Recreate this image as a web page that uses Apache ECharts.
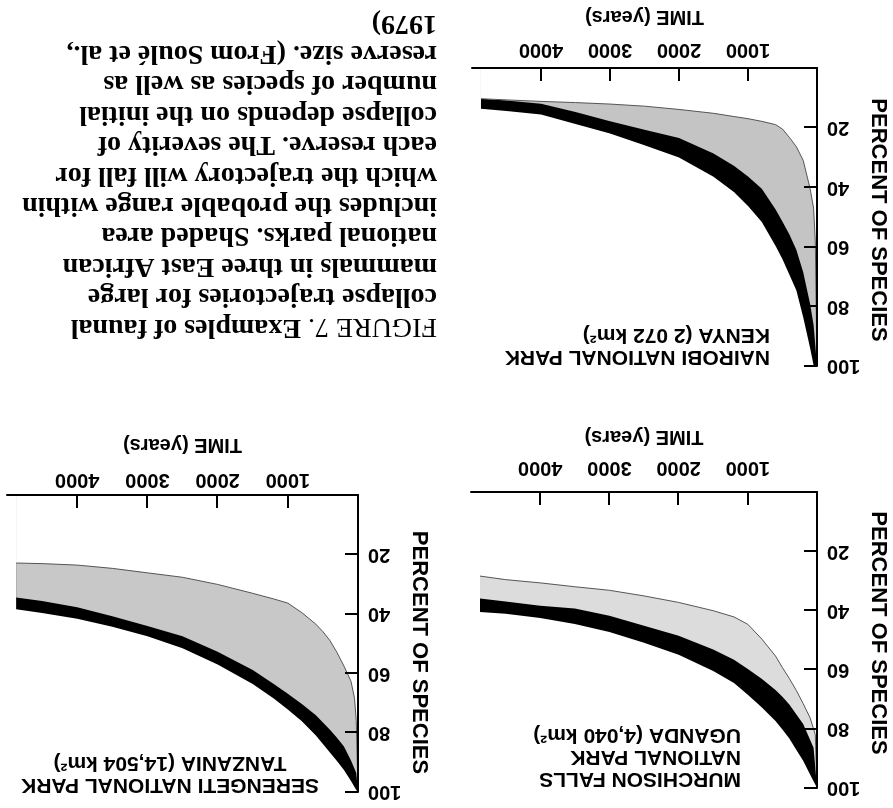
<!DOCTYPE html>
<html>
<head>
<meta charset="utf-8">
<title>Faunal collapse trajectories</title>
<script src="https://cdn.jsdelivr.net/npm/echarts@6/dist/echarts.min.js"></script>
<style>
  html, body { margin: 0; padding: 0; background: #fff; overflow: hidden; }
  /* the scanned page is upside down, so the whole chart is turned round */
  #chart { width: 893px; height: 808px; transform: rotate(180deg); }
</style>
</head>
<body>
<div id="chart"></div>
<script>
// years, shared by every panel
const years = [0, 25, 50, 100, 200, 300, 400, 500, 600, 800, 1000, 1200, 1500, 2000, 2500, 3000, 3500, 4000, 4500, 4870]

// percent of species left: slow edge, inner side of the black band, fast edge
const murchisonSlow = [100, 98.8, 97.7, 95.4, 90.8, 87.1, 83.3, 80.2, 77.4, 72.7, 68.5, 64.5, 60.5, 55, 50.9, 47.3, 44.6, 42.6, 41.1, 40.5]
const murchisonInner = [100, 93, 86.4, 83.7, 78.4, 75.1, 71.8, 69.2, 66.9, 63.1, 59.8, 56.7, 53.2, 48.6, 45.2, 41.8, 39.4, 38.4, 37, 36]
const murchisonFast = [100, 82, 80, 76.3, 71.5, 67, 63, 59.3, 55.4, 49.6, 44.7, 42.2, 40.1, 37.3, 35.1, 33.2, 32, 30.7, 29.6, 28.4]

const serengetiSlow = [100, 99.3, 98.3, 96.3, 92.6, 89.6, 86.7, 83.8, 81, 76.2, 72.2, 68.5, 63.6, 57.1, 51.6, 47.6, 44.4, 41.7, 39.7, 38.5]
const serengetiInner = [100, 93.6, 92.2, 89.4, 84.7, 81.7, 79, 76.6, 74.2, 70.4, 66.9, 63.6, 58.9, 52.8, 47.6, 44.1, 40.8, 37.8, 35.7, 34.5]
const serengetiFast = [100, 76, 68.4, 62.7, 57.6, 53, 49, 46, 43.5, 39.6, 36.4, 35, 33.1, 30.1, 27.7, 26.2, 24.7, 23.6, 23.1, 22.9]

const nairobiSlow = [100, 100, 99.7, 94, 83.6, 74.6, 69.4, 64.2, 59.7, 51.7, 46.3, 41.7, 36.5, 30, 25.9, 22, 18.8, 15.6, 14.4, 13.7]
const nairobiInner = [100, 93, 86.2, 79.2, 68.5, 61, 55.9, 51.6, 47.5, 40.5, 36.4, 32.9, 28.7, 23.5, 20.7, 17.9, 14.8, 12, 10.9, 10.3]
const nairobiFast = [100, 58, 47, 40.5, 31, 26.4, 23.3, 20.5, 19, 17.9, 17, 16.3, 15.2, 13.9, 12.8, 12.1, 11.6, 11.2, 10.7, 10.3]

const murchisonName = ['MURCHISON FALLS', 'NATIONAL PARK', 'UGANDA (4,040 km²)']
const serengetiName = ['SERENGETI NATIONAL PARK', 'TANZANIA (14,504 km²)']
const nairobiName = ['NAIROBI NATIONAL PARK', 'KENYA (2 072 km²)']

const captionLines = [
  '{fig|FIGURE 7.} Examples of faunal',
  'collapse trajectories for large',
  'mammals in three East African',
  'national parks. Shaded area',
  'includes the probable range within',
  'which the trajectory will fall for',
  'each reserve. The severity of',
  'collapse depends on the initial',
  'number of species as well as',
  'reserve size. (From Soulé et al.,',
  '1979)'
]

const sans = '"Liberation Sans", Arial, sans-serif'
const serif = '"Liberation Serif", "Times New Roman", serif'

// layout of the three panels (chart coordinates before the page is turned)
const panels = [
  { grid: { left: 76, top: 20, width: 346, height: 296 }, labelGap: 14, nameGap: 45, namePad: [0, 14, 0, 0],
    slow: murchisonSlow, inner: murchisonInner, fast: murchisonFast, shade: '#dcdcdc' },
  { grid: { left: 535, top: 16, width: 351, height: 297 }, labelGap: 5, nameGap: 40, namePad: [0, 0, 0, 18],
    slow: serengetiSlow, inner: serengetiInner, fast: serengetiFast, shade: '#c8c8c8' },
  { grid: { left: 76, top: 442, width: 345, height: 298 }, labelGap: 8, nameGap: 41, namePad: [0, 0, 0, 6],
    slow: nairobiSlow, inner: nairobiInner, fast: nairobiFast, shade: '#c4c4c4' }
]

const axisLine = { show: true, onZero: false, lineStyle: { color: '#000', width: 2 } }
const axisTick = { show: true, inside: true, length: 13, lineStyle: { color: '#000', width: 2 } }

function pairs(values) {
  return years.map((t, i) => [t, values[i]])
}

// black under the slow edge, grey under the inner edge, white under the fast edge
function bandSeries(p, idx) {
  const base = { type: 'line', xAxisIndex: idx, yAxisIndex: idx, symbol: 'none', silent: true, z: 2 }
  return [
    { ...base, data: pairs(p.slow), lineStyle: { width: 0 }, areaStyle: { color: '#000', opacity: 1 } },
    { ...base, data: pairs(p.inner), lineStyle: { width: 0 }, areaStyle: { color: p.shade, opacity: 1 } },
    { ...base, data: pairs(p.fast), lineStyle: { width: 1, color: '#555' }, areaStyle: { color: '#fff', opacity: 1 } }
  ]
}

const chart = echarts.init(document.getElementById('chart'), null, { renderer: 'canvas' })

const nameStyle = { fontFamily: sans, fontSize: 21, color: '#000', lineHeight: 22 }

chart.setOption({
  animation: false,
  backgroundColor: '#fff',
  title: [
    { text: murchisonName.join('\n'), left: 152, top: 18, padding: 0, textStyle: nameStyle },
    { text: serengetiName.join('\n'), left: 723, top: 12, padding: 0, textAlign: 'center', textStyle: nameStyle },
    { text: nairobiName.join('\n'), left: 123, top: 440, padding: 0, textStyle: nameStyle },
    {
      text: captionLines.join('\n'), left: 456, top: 466, padding: 0,
      textStyle: {
        fontFamily: serif, fontSize: 28, fontWeight: 'bold', color: '#000', lineHeight: 30.4,
        rich: { fig: { fontFamily: serif, fontSize: 28, fontWeight: 'normal', color: '#000', lineHeight: 30.4 } }
      }
    }
  ],
  grid: panels.map(p => ({ ...p.grid, containLabel: false })),
  xAxis: panels.map((p, i) => ({
    type: 'value', gridIndex: i, min: 0, max: 5000, interval: 1000, z: 10,
    name: 'TIME (years)', nameLocation: 'middle', nameGap: p.nameGap,
    nameTextStyle: { fontFamily: sans, fontSize: 20, fontWeight: 'bold', color: '#000' },
    axisLine, axisTick,
    axisLabel: { margin: p.labelGap, showMinLabel: false, showMaxLabel: false,
      formatter: v => String(v), fontFamily: sans, fontSize: 20, fontWeight: 'bold', color: '#000' },
    splitLine: { show: false }
  })),
  yAxis: panels.map((p, i) => ({
    type: 'value', gridIndex: i, min: 0, max: 100, interval: 20, z: 10,
    name: 'PERCENT OF SPECIES', nameLocation: 'middle', nameGap: 50,
    nameTextStyle: { fontFamily: sans, fontSize: 22, fontWeight: 'bold', color: '#000', padding: p.namePad },
    axisLine, axisTick,
    axisLabel: { margin: 10, showMinLabel: false, formatter: v => String(v),
      fontFamily: sans, fontSize: 20, fontWeight: 'bold', color: '#000' },
    splitLine: { show: false }
  })),
  series: panels.flatMap(bandSeries)
})
</script>
</body>
</html>
